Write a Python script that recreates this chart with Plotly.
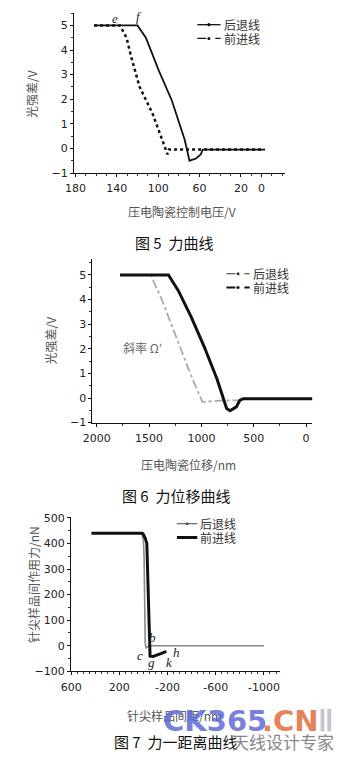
import plotly.graph_objects as go

W, H = 337, 762

def px(x):
    return x / W

def py(y):
    return 1 - y / H

# ---------------- Figure 5 data (voltage V, light intensity difference V)
p1_retreat_v = [162, 140, 120, 111.9, 99.4, 86.9, 74.4, 69.7, 63.4, 58.7, 57, 40, 20, -3]
p1_retreat_s = [5, 5, 5, 4.5, 3.16, 1.96, 0.36, -0.5, -0.41, -0.24, -0.05, -0.05, -0.05, -0.05]
p1_approach_v = [162, 150, 137, 130.6, 126, 118, 105.6, 96.2, 91, 89.6, 70, 50, 30, 10, -3]
p1_approach_s = [5, 5, 5, 4.5, 3.7, 2.5, 1.43, 0.36, -0.24, -0.04, -0.04, -0.04, -0.04, -0.04, -0.04]
p1_xticks = [180, 140, 100, 60, 20, 0]
p1_yticks = [-1, 0, 1, 2, 3, 4, 5]

# ---------------- Figure 6 data (displacement nm, light intensity difference V)
p2_approach_d = [1778, 1500, 1315, 1222, 1098, 975, 851, 759, 727, 666, 634, 600, 300, -61]
p2_approach_s = [5, 5, 5, 4.37, 3.3, 2.1, 0.77, -0.43, -0.52, -0.36, -0.1, -0.03, -0.03, -0.03]
p2_retreat_d = [1778, 1485, 1376, 1222, 1098, 990, 800, 650]
p2_retreat_s = [5, 5, 3.97, 2.24, 0.9, -0.16, -0.1, -0.1]
p2_xticks = [2000, 1500, 1000, 500, 0]
p2_yticks = [-1, 0, 1, 2, 3, 4, 5]

# ---------------- Figure 7 data (tip-sample distance nm, force nN)
p3_approach_d = [431, 200, 10, 0, -15, -28, -34, -42, -48, -52, -55, -80, -110, -150, -190]
p3_approach_f = [440, 440, 440, 435, 420, 400, 320, 200, 100, 0, -41, -42, -38, -30, -22]
p3_retreat_d = [431, 200, 20, 10, 0, -5, -8, -10, -12, -15, -22, -32, -45, -300, -600, -1000]
p3_retreat_f = [440, 440, 440, 432, 410, 350, 250, 150, 60, 10, -8, -5, 0, 0, 0, 0]
p3_xticks = [600, 200, -200, -600, -1000]
p3_yticks = [-100, 0, 100, 200, 300, 400, 500]

series_names = ["后退线", "前进线"]

CJK = "Noto Sans CJK SC"
NUM = "DejaVu Sans"

fig = go.Figure()

# Figure 5
fig.add_trace(go.Scatter(x=p1_retreat_v, y=p1_retreat_s, mode="lines", name=series_names[0],
                         line=dict(color="#111", width=1.8), xaxis="x", yaxis="y"))
fig.add_trace(go.Scatter(x=p1_approach_v, y=p1_approach_s, mode="lines", name=series_names[1],
                         line=dict(color="#111", width=2.5, dash="dot"), xaxis="x", yaxis="y"))

# Figure 6
fig.add_trace(go.Scatter(x=p2_retreat_d, y=p2_retreat_s, mode="lines", name=series_names[0],
                         line=dict(color="#aaaaaa", width=1.8, dash="dashdot"), xaxis="x2", yaxis="y2"))
fig.add_trace(go.Scatter(x=p2_approach_d, y=p2_approach_s, mode="lines", name=series_names[1],
                         line=dict(color="#111", width=3), xaxis="x2", yaxis="y2"))

# Figure 7
fig.add_trace(go.Scatter(x=p3_retreat_d, y=p3_retreat_f, mode="lines", name=series_names[0],
                         line=dict(color="#8a8a8a", width=1.6), xaxis="x3", yaxis="y3"))
fig.add_trace(go.Scatter(x=p3_approach_d, y=p3_approach_f, mode="lines", name=series_names[1],
                         line=dict(color="#111", width=3), xaxis="x3", yaxis="y3"))

tickfont = dict(family=NUM, size=11, color="#222")

def xax(domain, rng, tickvals, anchor, minor_dtick):
    return dict(domain=domain, range=rng, anchor=anchor, tickvals=tickvals,
                ticktext=[str(v) for v in tickvals],
                showline=True, linecolor="#111", linewidth=1.2, showgrid=False, zeroline=False,
                ticks="outside", ticklen=3, tickcolor="#111", tickfont=tickfont,
                ticklabelstandoff=2,
                minor=dict(ticks="outside", ticklen=2, dtick=minor_dtick, tickcolor="#333", showgrid=False))

def yax(domain, rng, tickvals, anchor, minor_dtick):
    return dict(domain=domain, range=rng, anchor=anchor, tickvals=tickvals,
                showline=True, linecolor="#111", linewidth=1.2, showgrid=False, zeroline=False,
                ticks="outside", ticklen=3, tickcolor="#111", tickfont=tickfont,
                minor=dict(ticks="outside", ticklen=2, dtick=minor_dtick, tickcolor="#333", showgrid=False))

fig.update_layout(
    width=W, height=H, autosize=False,
    margin=dict(l=0, r=0, t=0, b=0),
    paper_bgcolor="white", plot_bgcolor="white",
    showlegend=False,
    xaxis=xax([px(66), px(283)], [181.4, -22.3], p1_xticks, "y", 10),
    yaxis=yax([py(170.7), py(8)], [-1, 5.51], p1_yticks, "x", 0.5),
    xaxis2=xax([px(85), px(311.7)], [2041, -61], p2_xticks, "y2", 250),
    yaxis2=yax([py(424.3), py(258)], [-1, 5.65], p2_yticks, "x2", 0.5),
    xaxis3=xax([px(63), px(278)], [600, -1131], p3_xticks, "y3", 50),
    yaxis3=yax([py(677), py(520)], [-100, 504], p3_yticks, "x3", 50),
)

ann = []
shapes = []

def note(text, x, y, font, angle=0, xanchor="center", xref="paper", yref="paper"):
    ann.append(dict(text=text, x=x, y=y, xref=xref, yref=yref, textangle=angle,
                    xanchor=xanchor, yanchor="middle", showarrow=False, font=font))

# manual legends (sample line + optional dot + label)
def legend_entry(x0, x1, yy, name, width, dash, dot, size=12, color="#111"):
    shapes.append(dict(type="line", xref="paper", yref="paper", x0=px(x0), x1=px(x1), y0=py(yy), y1=py(yy),
                       line=dict(color=color, width=width, dash=dash)))
    if dot:
        cx = (x0 + x1) / 2
        shapes.append(dict(type="circle", xref="paper", yref="paper", x0=px(cx - 1.6), x1=px(cx + 1.6),
                           y0=py(yy + 1.6), y1=py(yy - 1.6), fillcolor=color, line=dict(width=0)))
    note(name, px(x1 + 1), py(yy), dict(family=CJK, size=size, color="#333"), xanchor="left")

legend_entry(193, 217, 20, series_names[0], 1.3, "solid", True)
legend_entry(193, 217, 34, series_names[1], 1.3, "dash", True)
legend_entry(223, 247, 273, series_names[0], 1.1, "dash", True, color="#333")
legend_entry(223, 247, 287, series_names[1], 1.8, "dash", True)
legend_entry(172, 193, 527, series_names[0], 1.1, "solid", True, color="#555")
legend_entry(172, 193, 541, series_names[1], 3, "solid", False)

gray_title = dict(family=CJK, size=12, color="#555")
# axis titles
note("光强差/V", px(22), py(90), gray_title, angle=-90)
note("压电陶瓷控制电压/V", px(177), py(210), gray_title)
note("光强差/V", px(42), py(341), gray_title, angle=-90)
note("压电陶瓷位移/nm", px(184), py(467), gray_title)
note("针尖样品间作用力/nN", px(24), py(589), gray_title, angle=-90)
note("针尖样品间距/nm", px(170), py(722), gray_title)
# captions
cap = dict(family=CJK, size=15, color="#111")
note("图 5  力曲线", px(169), py(241), cap)
note("图 6  力位移曲线", px(171), py(498), cap)
note("图 7  力一距离曲线", px(171), py(748), cap)
# point labels (italic)
lab = dict(family="Liberation Serif", size=13, color="#222")
note("<i>e</i>", 142, 5.27, lab, xref="x", yref="y")
note("<i>f</i>", 118.5, 5.35, lab, xref="x", yref="y")
note("斜率 Ω′", px(137), py(348), dict(family=CJK, size=12, color="#666"))
for t, xv, yv in [("b", -77, 31), ("c", 28, -38), ("g", -69, -65), ("k", -215, -65), ("h", -272, -27)]:
    note(f"<i>{t}</i>", xv, yv, lab, xref="x3", yref="y3")
# watermark
note("<b>CK365</b>", px(156), py(727), dict(family="DejaVu Sans", size=29, color="rgba(95,105,215,0.85)"),
     xanchor="left")
note("<b>.CN</b>", px(258), py(727), dict(family="DejaVu Sans", size=29, color="rgba(225,95,45,0.8)"),
     xanchor="left")
for bx in (320, 327):
    shapes.append(dict(type="rect", xref="paper", yref="paper", x0=px(bx), x1=px(bx + 4),
                       y0=py(738), y1=py(715), fillcolor="rgba(150,150,165,0.55)", line=dict(width=0)))
note("天线设计专家", px(281), py(748), dict(family=CJK, size=17, color="#888"))
fig.update_layout(annotations=ann, shapes=shapes)

fig.write_html("out.html")
